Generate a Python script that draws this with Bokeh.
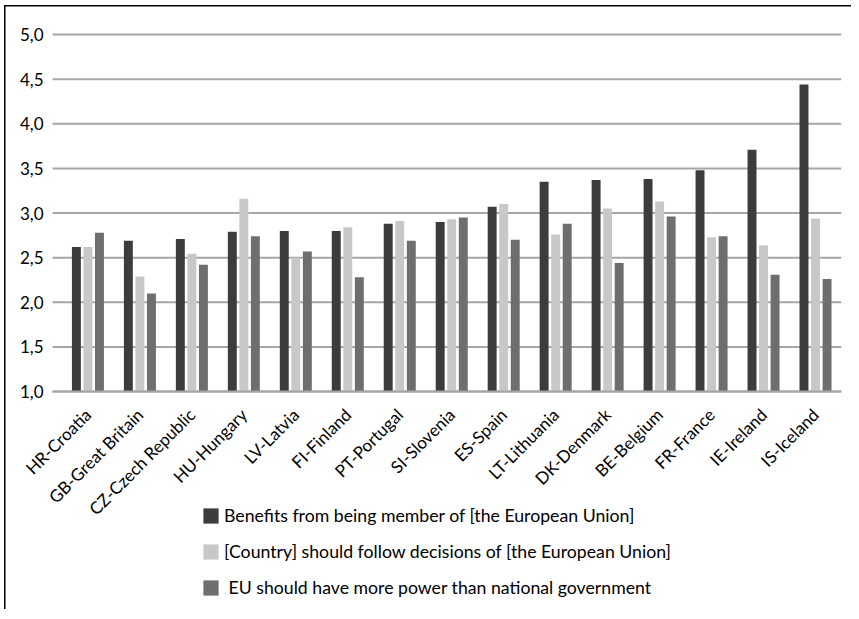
import math
from bokeh.plotting import figure
from bokeh.models import Range1d, FixedTicker, Legend, LegendItem, ColumnDataSource
from bokeh.transform import dodge
from bokeh.embed import file_html
from bokeh.resources import INLINE

countries = ["HR-Croatia", "GB-Great Britain", "CZ-Czech Republic", "HU-Hungary",
             "LV-Latvia", "FI-Finland", "PT-Portugal", "SI-Slovenia", "ES-Spain",
             "LT-Lithuania", "DK-Denmark", "BE-Belgium", "FR-France", "IE-Ireland",
             "IS-Iceland"]
benefits = [2.62, 2.69, 2.71, 2.79, 2.80, 2.80, 2.88, 2.90, 3.07, 3.35, 3.37, 3.38, 3.48, 3.71, 4.44]
follow = [2.62, 2.29, 2.545, 3.16, 2.50, 2.84, 2.91, 2.93, 3.10, 2.76, 3.05, 3.13, 2.73, 2.64, 2.94]
power = [2.78, 2.10, 2.42, 2.74, 2.57, 2.28, 2.69, 2.95, 2.70, 2.88, 2.44, 2.96, 2.74, 2.31, 2.26]
series_names = ["Benefits from being member of [the European Union]",
                "[Country] should follow decisions of [the European Union]",
                " EU should have more power than national government"]
y_ticks = [1.0, 1.5, 2.0, 2.5, 3.0, 3.5, 4.0, 4.5, 5.0]
y_labels = ["1,0", "1,5", "2,0", "2,5", "3,0", "3,5", "4,0", "4,5", "5,0"]
y_base = 1.0
x_left, x_right = -0.68, 14.5   # extent of the plotted category area

FONT = "Lato"
colors = ["#3c3c3c", "#c8c8c8", "#6e6e6e"]

src = ColumnDataSource(dict(x=list(range(len(countries))), benefits=benefits,
                            follow=follow, power=power))

# frame is larger than the plotted area so that the axes' labels and the legend
# can sit inside it without being clipped
p = figure(frame_width=827, frame_height=591, output_backend="svg", toolbar_location=None,
           x_range=Range1d(-1.413, x_right), y_range=Range1d(-1.396, 5.224),
           min_border_left=14, min_border_top=14, min_border_right=10,
           min_border_bottom=4)
p.outline_line_color = None
p.border_fill_alpha = 0
p.styles = {
    "background": ("linear-gradient(#000,#000) 4px 5px / 1.5px 100% no-repeat, "
                   "linear-gradient(#000,#000) 4px 5px / 100% 1.5px no-repeat, #fff"),
}

# horizontal gridlines, limited to the category area
p.segment(x0=x_left, y0=y_ticks, x1=x_right, y1=y_ticks, line_color="#a6a6a6",
          line_width=2, level="underlay")

fields = ["benefits", "follow", "power"]
offsets = [-0.222, 0.0, 0.222]
renderers = []
for f, off, c in zip(fields, offsets, colors):
    r = p.vbar(x=dodge("x", off, range=p.x_range), top=f, bottom=y_base, width=0.172,
               source=src, fill_color=c, line_color=None)
    renderers.append(r)

p.xgrid.visible = False
p.ygrid.visible = False

p.yaxis.fixed_location = x_left
p.yaxis.bounds = (y_base, 5.0)
p.yaxis.ticker = FixedTicker(ticks=y_ticks)
p.yaxis.major_label_overrides = {t: l for t, l in zip(y_ticks, y_labels)}
p.yaxis.axis_line_color = None
p.yaxis.major_tick_line_color = None
p.yaxis.minor_tick_line_color = None
p.yaxis.major_tick_out = 0
p.yaxis.major_label_standoff = 9
p.yaxis.major_label_text_font = FONT
p.yaxis.major_label_text_font_size = "17px"
p.yaxis.major_label_text_color = "#000000"

p.xaxis.fixed_location = y_base
p.xaxis.bounds = (x_left, x_right)
p.xaxis.ticker = FixedTicker(ticks=list(range(len(countries))))
p.xaxis.major_label_overrides = {i: n for i, n in enumerate(countries)}
p.xaxis.major_label_orientation = math.pi / 4
p.xaxis.axis_line_color = "#a6a6a6"
p.xaxis.axis_line_width = 2
p.xaxis.major_tick_line_color = None
p.xaxis.minor_tick_line_color = None
p.xaxis.major_tick_out = 0
p.xaxis.major_label_standoff = 20
p.xaxis.major_label_text_font = FONT
p.xaxis.major_label_text_font_size = "17px"
p.xaxis.major_label_text_color = "#000000"

legend = Legend(items=[LegendItem(label=n, renderers=[r]) for n, r in zip(series_names, renderers)],
                location=(187, 7), orientation="vertical")
legend.label_text_font = FONT
legend.label_text_font_size = "17.7px"
legend.label_text_color = "#000000"
legend.glyph_width = 19
legend.glyph_height = 19
legend.label_height = 20
legend.spacing = 15
legend.padding = 0
legend.margin = 0
legend.label_standoff = 4
legend.border_line_color = None
legend.background_fill_alpha = 0
p.add_layout(legend, "center")

open("out.html", "w").write(file_html(p, INLINE))
